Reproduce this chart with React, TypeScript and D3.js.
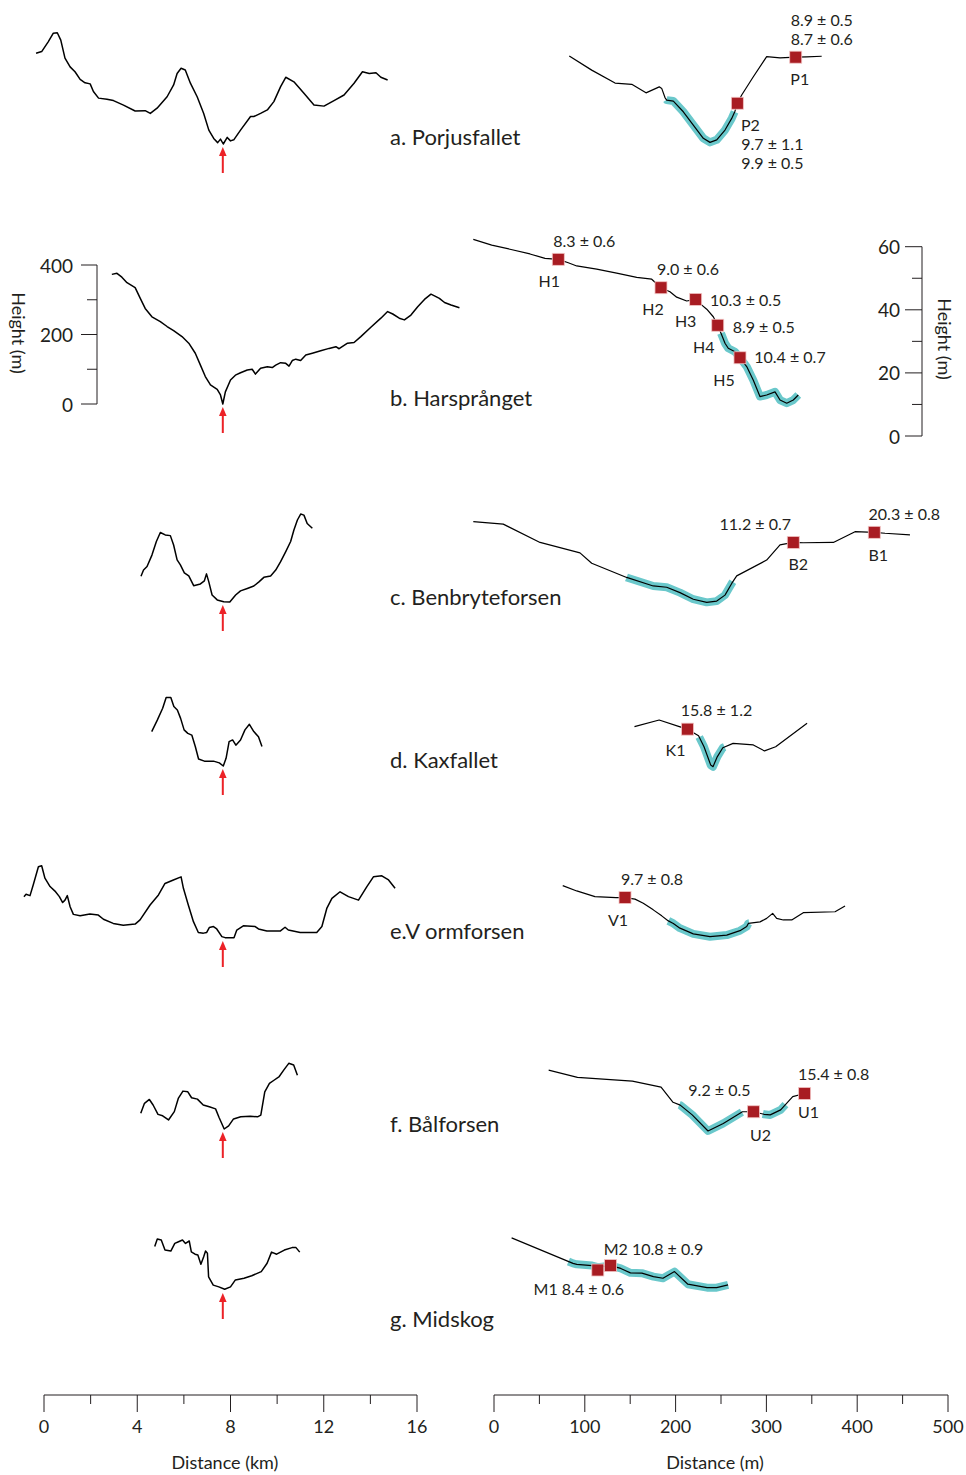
import * as d3 from 'd3';

type Pt = [number, number];

// Long profiles across each valley: [distance km, height m above the valley floor]
const porjusValley: Pt[] = [
  [-0.34, 261], [-0.1, 266], [0.18, 294], [0.4, 319], [0.57, 320], [0.72, 299], [0.9, 247], [1.12, 222],
  [1.33, 208], [1.55, 186], [1.76, 176], [1.98, 173], [2.12, 151], [2.34, 132], [2.7, 129], [2.98, 125],
  [3.41, 112], [3.91, 95], [4.34, 96], [4.56, 88], [4.85, 103], [5.28, 136], [5.56, 170], [5.71, 203],
  [5.88, 218], [6.06, 213], [6.28, 175], [6.57, 136], [6.85, 88], [7.07, 40], [7.28, 16], [7.45, 4],
  [7.57, 14], [7.69, 0], [7.86, 19], [8.0, 9], [8.14, 12], [8.43, 40], [8.86, 79], [9.0, 79], [9.29, 88],
  [9.58, 98], [9.86, 122], [10.15, 165], [10.37, 192], [10.72, 179], [11.15, 146], [11.58, 112],
  [12.01, 109], [12.44, 125], [12.87, 141], [13.3, 175], [13.66, 208], [13.95, 203], [14.24, 205],
  [14.45, 192], [14.74, 184],
];
const harsprangetValley: Pt[] = [
  [2.91, 373], [3.13, 376], [3.34, 365], [3.56, 349], [3.91, 335], [4.13, 304], [4.34, 275], [4.63, 251],
  [4.99, 237], [5.28, 223], [5.56, 211], [5.92, 194], [6.21, 175], [6.49, 146], [6.71, 112], [6.92, 79],
  [7.14, 55], [7.43, 42], [7.57, 26], [7.67, 0], [7.78, 35], [8.0, 69], [8.21, 83], [8.43, 90], [8.72, 98],
  [8.93, 100], [9.07, 86], [9.29, 103], [9.58, 107], [9.79, 105], [9.94, 112], [10.15, 119], [10.37, 117],
  [10.51, 109], [10.65, 125], [10.8, 129], [11.01, 125], [11.23, 141], [11.51, 146], [11.87, 153],
  [12.23, 160], [12.52, 165], [12.66, 159], [13.02, 175], [13.3, 177], [13.59, 194], [14.02, 221],
  [14.45, 247], [14.74, 266], [14.96, 259], [15.24, 247], [15.46, 242], [15.74, 256], [16.03, 280],
  [16.32, 301], [16.6, 316], [16.75, 311], [16.96, 304], [17.18, 292], [17.46, 285], [17.82, 277],
];
const benbryteValley: Pt[] = [
  [4.16, 74], [4.27, 92], [4.42, 102], [4.63, 135], [4.82, 174], [4.99, 200], [5.2, 193], [5.42, 191],
  [5.56, 164], [5.71, 121], [5.85, 107], [6.02, 84], [6.21, 75], [6.42, 47], [6.71, 52], [6.88, 61],
  [6.97, 81], [7.07, 58], [7.21, 20], [7.43, 6], [7.71, 1], [7.97, 0], [8.22, 20], [8.43, 32], [8.72, 39],
  [9.0, 46], [9.22, 58], [9.43, 71], [9.72, 75], [9.94, 92], [10.15, 116], [10.37, 145], [10.58, 174],
  [10.72, 207], [10.87, 236], [11.01, 253], [11.15, 250], [11.29, 226], [11.51, 212],
];
const kaxValley: Pt[] = [
  [4.62, 99], [4.86, 132], [5.09, 166], [5.24, 197], [5.44, 197], [5.57, 171], [5.72, 161], [5.86, 137],
  [6.01, 104], [6.17, 94], [6.34, 89], [6.49, 56], [6.63, 20], [6.88, 14], [7.27, 14], [7.52, 9],
  [7.69, 0], [7.81, 22], [7.94, 70], [8.09, 75], [8.23, 60], [8.43, 75], [8.62, 104], [8.81, 120],
  [9.0, 99], [9.2, 84], [9.35, 56],
];
const vormValley: Pt[] = [
  [-0.86, 119], [-0.77, 126], [-0.6, 122], [-0.46, 153], [-0.24, 205], [-0.1, 208], [0.04, 172],
  [0.26, 148], [0.47, 135], [0.66, 119], [0.8, 102], [0.9, 109], [1.0, 122], [1.12, 90], [1.26, 68],
  [1.55, 64], [1.97, 69], [2.33, 66], [2.55, 54], [2.97, 42], [3.4, 37], [3.91, 40], [4.12, 52],
  [4.55, 95], [4.91, 124], [5.19, 157], [5.55, 167], [5.88, 176], [5.98, 143], [6.19, 95], [6.41, 47],
  [6.62, 16], [6.84, 14], [6.98, 16], [7.09, 30], [7.27, 33], [7.41, 26], [7.63, 4], [7.77, 1],
  [8.15, 1], [8.27, 23], [8.55, 35], [9.06, 33], [9.2, 26], [9.56, 20], [10.13, 20], [10.34, 31],
  [10.48, 23], [10.99, 16], [11.7, 16], [11.92, 33], [12.13, 85], [12.35, 114], [12.7, 133],
  [13.06, 119], [13.49, 109], [13.85, 148], [14.13, 176], [14.49, 179], [14.78, 167], [15.06, 143],
];
const balValley: Pt[] = [
  [4.15, 45], [4.31, 74], [4.52, 85], [4.68, 69], [4.89, 42], [5.09, 38], [5.34, 26], [5.59, 50],
  [5.76, 88], [5.96, 109], [6.17, 107], [6.33, 90], [6.58, 86], [6.83, 69], [7.09, 64], [7.36, 58],
  [7.51, 33], [7.73, 0], [7.92, 9], [8.13, 29], [8.44, 35], [8.85, 37], [9.16, 35], [9.3, 40],
  [9.47, 107], [9.67, 131], [9.88, 141], [10.09, 151], [10.29, 170], [10.5, 189], [10.71, 184],
  [10.87, 155],
];
const midskogValley: Pt[] = [
  [4.75, 125], [4.86, 147], [5.03, 144], [5.19, 115], [5.44, 112], [5.61, 134], [5.77, 139], [5.94, 144],
  [6.07, 134], [6.23, 141], [6.32, 110], [6.48, 103], [6.6, 101], [6.73, 74], [6.85, 96], [6.93, 112],
  [7.01, 106], [7.06, 38], [7.26, 14], [7.5, 9], [7.75, 2], [8.0, 9], [8.21, 29], [8.58, 34], [8.91, 41],
  [9.32, 53], [9.57, 77], [9.76, 109], [9.98, 103], [10.31, 115], [10.64, 122], [10.81, 122],
  [10.97, 109],
];

// Channel profiles at each fall: [distance m, height m above the channel floor]
const porjusChannel: Pt[] = [
  [82.9, 27.6], [107.6, 23.1], [133.3, 19.0], [151.7, 18.6], [167.4, 15.9], [182.0, 17.8], [184.7, 17.3],
  [188.3, 14.4], [190.2, 13.6], [197.5, 13.3], [208.5, 9.9], [219.5, 5.7], [230.5, 1.5], [237.9, 0.2],
  [245.3, 1.0], [254.4, 4.1], [261.8, 7.8], [265.4, 10.1], [268.0, 12.6], [272.8, 15.2], [285.6, 21.0],
  [300.3, 27.4], [315.0, 27.0], [332.3, 27.2], [344.4, 27.3], [360.9, 27.5],
];
const harsprangetChannel: Pt[] = [
  [-22.8, 62.3], [-2.5, 60.5], [17.6, 59.2], [39.6, 57.7], [56.2, 56.3], [70.8, 56.0], [81.8, 54.9],
  [91.1, 53.9], [113.1, 52.9], [135.1, 51.6], [157.2, 50.3], [173.7, 49.7], [183.9, 47.0], [193.8, 45.7],
  [201.2, 44.0], [212.2, 42.8], [222.1, 43.3], [227.6, 41.8], [234.3, 40.2], [241.5, 37.8], [246.4, 35.1],
  [250.8, 32.0], [254.4, 29.4], [258.0, 27.8], [265.4, 26.7], [270.9, 24.8], [278.3, 22.0], [285.6, 17.7],
  [292.9, 12.5], [300.3, 13.0], [309.5, 14.0], [315.0, 11.4], [322.4, 10.4], [329.6, 11.4], [335.1, 13.0],
];
const benbryteChannel: Pt[] = [
  [-22.8, 25.8], [10.2, 25.0], [50.7, 19.2], [94.7, 15.9], [107.6, 12.6], [146.1, 8.1], [175.4, 5.4],
  [190.2, 5.0], [204.8, 3.3], [219.5, 1.2], [234.3, 0.2], [245.3, 0.6], [254.4, 2.5], [261.8, 6.2],
  [267.3, 8.6], [300.3, 13.6], [315.0, 18.4], [329.6, 19.2], [340.6, 19.1], [373.7, 19.2], [397.6, 22.6],
  [418.8, 22.4], [430.6, 22.1], [458.1, 21.6],
];
const kaxChannel: Pt[] = [
  [154.7, 12.8], [181.9, 14.9], [204.1, 12.8], [213.1, 12.0], [225.3, 9.9], [231.3, 6.4], [238.7, 0.6],
  [241.2, 0.1], [246.0, 3.3], [252.0, 6.1], [263.3, 7.5], [285.6, 7.0], [297.9, 5.1], [310.2, 6.4],
  [344.8, 13.9],
];
const vormChannel: Pt[] = [
  [75.7, 16.3], [91.1, 14.6], [111.2, 12.8], [134.4, 12.5], [144.3, 12.5], [155.3, 12.0], [164.4, 10.7],
  [175.4, 8.6], [184.7, 6.7], [192.0, 5.1], [197.5, 4.3], [204.8, 2.8], [219.5, 1.0], [237.9, 0.1],
  [256.3, 0.6], [270.9, 2.0], [278.3, 3.3], [280.1, 4.3], [293.0, 4.8], [300.3, 5.9], [306.9, 7.5],
  [311.3, 5.9], [318.6, 5.4], [327.9, 5.4], [340.6, 7.7], [375.6, 8.0], [386.6, 9.8],
];
const balChannel: Pt[] = [
  [60.2, 19.3], [91.9, 17.0], [152.4, 15.8], [184.0, 13.9], [197.2, 9.1], [205.1, 8.2], [218.3, 5.1],
  [235.7, 0], [252.5, 2.4], [273.6, 6.1], [285.7, 6.1], [297.4, 5.3], [304.2, 5.1], [315.7, 6.7],
  [329.0, 10.9], [342.1, 11.9],
];
const midskogChannel: Pt[] = [
  [19.4, 15.9], [87.0, 7.8], [91.2, 7.5], [108.0, 7.1], [114.3, 6.6], [128.3, 7.1], [139.6, 6.2],
  [150.2, 4.8], [162.9, 4.7], [175.6, 3.6], [186.1, 3.1], [198.8, 5.2], [213.5, 1.2], [234.6, 0.1],
  [245.2, 0.1], [257.8, 1.0],
];

// Reaches highlighted in cyan: [from m, to m]
const porjusReach: Pt[] = [[190, 265]];
const harsprangetReach: Pt[] = [[250, 335.1]];
const benbryteReach: Pt[] = [[146, 263]];
const kaxReach: Pt[] = [[226, 254]];
const vormReach: Pt[] = [[192, 281]];
const balReach: Pt[] = [[204, 273], [296, 321]];
const midskogReach: Pt[] = [[82, 257.8]];

// Sample sites: id, distance m, height m, exposure ages (ka)
type Site = { id: string; d: number; h: number; ages: string[] };
const porjusSites: Site[] = [
  { id: 'P1', d: 332.3, h: 27.2, ages: ['8.9 ± 0.5', '8.7 ± 0.6'] },
  { id: 'P2', d: 268.0, h: 12.6, ages: ['9.7 ± 1.1', '9.9 ± 0.5'] },
];
const harsprangetSites: Site[] = [
  { id: 'H1', d: 70.8, h: 56.0, ages: ['8.3 ± 0.6'] },
  { id: 'H2', d: 183.9, h: 47.0, ages: ['9.0 ± 0.6'] },
  { id: 'H3', d: 222.1, h: 43.3, ages: ['10.3 ± 0.5'] },
  { id: 'H4', d: 246.4, h: 35.1, ages: ['8.9 ± 0.5'] },
  { id: 'H5', d: 270.9, h: 24.8, ages: ['10.4 ± 0.7'] },
];
const benbryteSites: Site[] = [
  { id: 'B2', d: 329.6, h: 19.2, ages: ['11.2 ± 0.7'] },
  { id: 'B1', d: 418.8, h: 22.4, ages: ['20.3 ± 0.8'] },
];
const kaxSites: Site[] = [{ id: 'K1', d: 213.1, h: 12.0, ages: ['15.8 ± 1.2'] }];
const vormSites: Site[] = [{ id: 'V1', d: 144.3, h: 12.5, ages: ['9.7 ± 0.8'] }];
const balSites: Site[] = [
  { id: 'U2', d: 285.7, h: 6.1, ages: ['9.2 ± 0.5'] },
  { id: 'U1', d: 342.1, h: 11.9, ages: ['15.4 ± 0.8'] },
];
const midskogSites: Site[] = [
  { id: 'M1', d: 114.3, h: 5.7, ages: ['8.4 ± 0.6'] },
  { id: 'M2', d: 128.3, h: 7.1, ages: ['10.8 ± 0.9'] },
];

const titles = ['a. Porjusfallet', 'b. Harsprånget', 'c. Benbryteforsen', 'd. Kaxfallet', 'e.V ormforsen', 'f. Bålforsen', 'g. Midskog'];
const fallKm = 7.67; // position of the fall on each valley profile

const kmTicks = [0, 4, 8, 12, 16];
const kmMinor = [2, 6, 10, 14];
const mTicks = [0, 100, 200, 300, 400, 500];
const mMinor = [50, 150, 250, 350, 450];
const leftHTicks = [0, 200, 400];
const leftHMinor = [100, 300];
const rightHTicks = [0, 20, 40, 60];
const rightHMinor = [10, 30, 50];

// layout: vertical placement of every row
const rows = [
  { valley: porjusValley, channel: porjusChannel, reach: porjusReach, sites: porjusSites, titleY: 136, lBase: 144, rBase: 143 },
  { valley: harsprangetValley, channel: harsprangetChannel, reach: harsprangetReach, sites: harsprangetSites, titleY: 397, lBase: 404, rBase: 436 },
  { valley: benbryteValley, channel: benbryteChannel, reach: benbryteReach, sites: benbryteSites, titleY: 596, lBase: 602, rBase: 603 },
  { valley: kaxValley, channel: kaxChannel, reach: kaxReach, sites: kaxSites, titleY: 759, lBase: 766, rBase: 767 },
  { valley: vormValley, channel: vormChannel, reach: vormReach, sites: vormSites, titleY: 930, lBase: 938, rBase: 937 },
  { valley: balValley, channel: balChannel, reach: balReach, sites: balSites, titleY: 1123, lBase: 1129, rBase: 1131 },
  { valley: midskogValley, channel: midskogChannel, reach: midskogReach, sites: midskogSites, titleY: 1318, lBase: 1290, rBase: 1288 },
];

// label offsets (px) from each site marker: [id label, first age line]
const labelAt: Record<string, { id: Pt; age: Pt; joined?: boolean }> = {
  P1: { id: [4, 21], age: [26, -38] },
  P2: { id: [13, 21], age: [35, 40] },
  H1: { id: [-9, 21], age: [26, -19] },
  H2: { id: [-8, 21], age: [27, -19] },
  H3: { id: [-10, 21], age: [50, 0] },
  H4: { id: [-14, 21], age: [46, 1] },
  H5: { id: [-16, 22], age: [50, -1] },
  B2: { id: [5, 21], age: [-38, -19] },
  B1: { id: [4, 22], age: [30, -19] },
  K1: { id: [-12, 20], age: [29, -20] },
  V1: { id: [-7, 22], age: [27, -19] },
  U2: { id: [7, 23], age: [-34, -22] },
  U1: { id: [4, 18], age: [29, -20] },
  M1: { id: [-19, 18], age: [0, 0], joined: true },
  M2: { id: [43, -17], age: [0, 0], joined: true },
};

const FONT = 'Lato, "Open Sans", sans-serif';
const INK = '#231f20';
const CYAN = '#6ac8cb';
const RED_SITE = '#a81c22';
const RED_ARROW = '#ec2227';

const xKm = d3.scaleLinear().domain([0, 16]).range([44, 417]);
const xM = d3.scaleLinear().domain([0, 500]).range([494, 948]);
const yLeft = (base: number) => d3.scaleLinear().domain([0, 400]).range([base, base - 139]);
const yRight = (base: number) => d3.scaleLinear().domain([0, 60]).range([base, base - 189.3]);

function heightAt(pts: Pt[], x: number): number {
  const i = d3.bisector((p: Pt) => p[0]).left(pts, x);
  if (i <= 0) return pts[0][1];
  if (i >= pts.length) return pts[pts.length - 1][1];
  const a = pts[i - 1], b = pts[i];
  return a[1] + ((b[1] - a[1]) * (x - a[0])) / (b[0] - a[0]);
}

function clip(pts: Pt[], from: number, to: number): Pt[] {
  return [[from, heightAt(pts, from)] as Pt, ...pts.filter((p) => p[0] > from && p[0] < to), [to, heightAt(pts, to)] as Pt];
}

export default function App() {
  const yAxisB = yLeft(rows[1].lBase);
  const yAxisR = yRight(rows[1].rBase);
  const axisY = 1395;

  return (
    <svg width={966} height={1475} style={{ position: 'absolute', left: 0, top: 0, background: '#fff' }} fontFamily={FONT}>
      {rows.map((r, i) => {
        const yl = yLeft(r.lBase);
        const yr = yRight(r.rBase);
        const valleyLine = d3.line<Pt>().x((p) => xKm(p[0])).y((p) => yl(p[1]));
        const chanLine = d3.line<Pt>().x((p) => xM(p[0])).y((p) => yr(p[1]));
        const ax = xKm(fallKm);
        const aTop = r.lBase + 3;
        return (
          <g key={i}>
            <path d={valleyLine(r.valley) ?? ''} fill="none" stroke="#000" strokeWidth={1.5} strokeLinejoin="round" />
            <line x1={ax} x2={ax} y1={aTop + 7} y2={aTop + 26} stroke={RED_ARROW} strokeWidth={2} />
            <path d={`M${ax},${aTop} L${ax - 3.8},${aTop + 9} L${ax + 3.8},${aTop + 9} Z`} fill={RED_ARROW} />
            <text x={390} y={r.titleY} fontSize={22} fill={INK} dominantBaseline="central">{titles[i]}</text>
            {r.reach.map((rg, j) => (
              <path key={j} d={chanLine(clip(r.channel, rg[0], rg[1])) ?? ''} fill="none" stroke={CYAN} strokeWidth={8} strokeLinejoin="round" />
            ))}
            <path d={chanLine(r.channel) ?? ''} fill="none" stroke="#000" strokeWidth={1.2} strokeLinejoin="round" />
            {r.sites.map((s) => {
              const cx = xM(s.d);
              const cy = yr(s.h);
              const lb = labelAt[s.id];
              return (
                <g key={s.id}>
                  <rect x={cx - 6} y={cy - 6} width={12} height={12} fill={RED_SITE} stroke="#f2c4c4" strokeWidth={0.8} />
                  {lb.joined ? (
                    <text x={cx + lb.id[0]} y={cy + lb.id[1]} fontSize={16} fill={INK} textAnchor="middle" dominantBaseline="central">
                      {`${s.id} ${s.ages[0]}`}
                    </text>
                  ) : (
                    <>
                      <text x={cx + lb.id[0]} y={cy + lb.id[1]} fontSize={16} fill={INK} textAnchor="middle" dominantBaseline="central">{s.id}</text>
                      {s.ages.map((a, k) => (
                        <text key={k} x={cx + lb.age[0]} y={cy + lb.age[1] + k * 19} fontSize={16} fill={INK} textAnchor="middle" dominantBaseline="central">{a}</text>
                      ))}
                    </>
                  )}
                </g>
              );
            })}
          </g>
        );
      })}

      {/* left height axis (row b) */}
      <g stroke={INK} strokeWidth={1}>
        <line x1={97} x2={97} y1={yAxisB(0)} y2={yAxisB(400)} />
        {leftHTicks.map((t) => <line key={t} x1={81} x2={97} y1={yAxisB(t)} y2={yAxisB(t)} />)}
        {leftHMinor.map((t) => <line key={t} x1={87} x2={97} y1={yAxisB(t)} y2={yAxisB(t)} />)}
      </g>
      {leftHTicks.map((t) => (
        <text key={t} x={73} y={yAxisB(t)} fontSize={19} fill={INK} textAnchor="end" dominantBaseline="central">{t}</text>
      ))}
      <text transform="translate(19,333) rotate(90)" fontSize={18} fill={INK} textAnchor="middle" dominantBaseline="central">Height (m)</text>

      {/* right height axis (row b) */}
      <g stroke={INK} strokeWidth={1}>
        <line x1={922} x2={922} y1={yAxisR(0)} y2={yAxisR(60)} />
        {rightHTicks.map((t) => <line key={t} x1={905} x2={922} y1={yAxisR(t)} y2={yAxisR(t)} />)}
        {rightHMinor.map((t) => <line key={t} x1={912} x2={922} y1={yAxisR(t)} y2={yAxisR(t)} />)}
      </g>
      {rightHTicks.map((t) => (
        <text key={t} x={900} y={yAxisR(t)} fontSize={19} fill={INK} textAnchor="end" dominantBaseline="central">{t}</text>
      ))}
      <text transform="translate(945,339) rotate(90)" fontSize={18} fill={INK} textAnchor="middle" dominantBaseline="central">Height (m)</text>

      {/* bottom distance axes */}
      <g stroke={INK} strokeWidth={1}>
        <line x1={xKm(0)} x2={xKm(16)} y1={axisY} y2={axisY} />
        {kmTicks.map((t) => <line key={t} x1={xKm(t)} x2={xKm(t)} y1={axisY} y2={axisY + 17} />)}
        {kmMinor.map((t) => <line key={t} x1={xKm(t)} x2={xKm(t)} y1={axisY} y2={axisY + 9} />)}
        <line x1={xM(0)} x2={xM(500)} y1={axisY} y2={axisY} />
        {mTicks.map((t) => <line key={t} x1={xM(t)} x2={xM(t)} y1={axisY} y2={axisY + 17} />)}
        {mMinor.map((t) => <line key={t} x1={xM(t)} x2={xM(t)} y1={axisY} y2={axisY + 9} />)}
      </g>
      {kmTicks.map((t) => (
        <text key={t} x={xKm(t)} y={1426} fontSize={18} fill={INK} textAnchor="middle" dominantBaseline="central">{t}</text>
      ))}
      {mTicks.map((t) => (
        <text key={t} x={xM(t)} y={1426} fontSize={18} fill={INK} textAnchor="middle" dominantBaseline="central">{t}</text>
      ))}
      <text x={225} y={1462} fontSize={18} fill={INK} textAnchor="middle" dominantBaseline="central">Distance (km)</text>
      <text x={715} y={1462} fontSize={18} fill={INK} textAnchor="middle" dominantBaseline="central">Distance (m)</text>
    </svg>
  );
}
